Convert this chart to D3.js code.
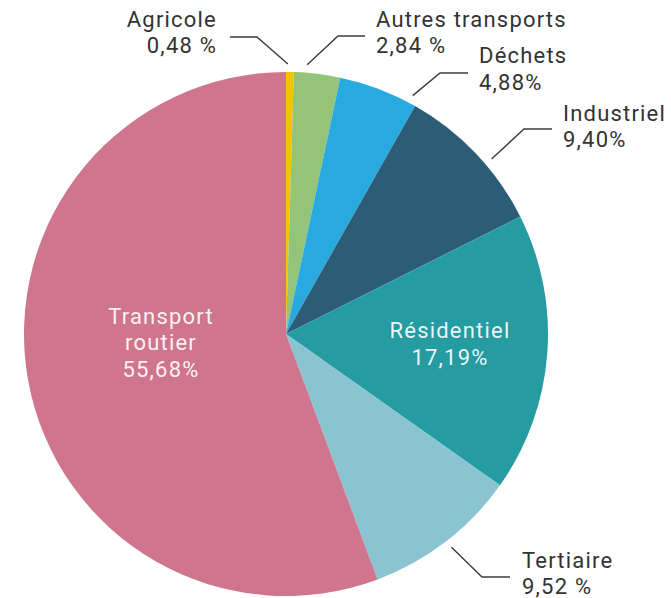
<!DOCTYPE html>
<html><head><meta charset="utf-8">
<script src="https://cdn.jsdelivr.net/npm/d3@7"></script>
<style>
html,body{margin:0;padding:0;background:#fff;}
svg{display:block;}
text{font-family:Roboto,"Open Sans",sans-serif;}
</style></head>
<body>
<svg id="chart" width="671" height="598"></svg>
<script>
// ---- data ----
const categories = ["Agricole","Autres transports","Déchets","Industriel","Résidentiel","Tertiaire","Transport routier"];
const values = [0.48, 2.84, 4.88, 9.40, 17.19, 9.52, 55.68];
const valueLabels = ["0,48 %","2,84 %","4,88%","9,40%","17,19%","9,52 %","55,68%"];
const colors = ["#f3c300","#94c47a","#28a9e0","#2d5c77","#259ba2","#89c4d0","#cf768e"];

// ---- layout (label placement) ----
const cx = 286, cy = 334, R = 262;
const outside = {
  "Agricole":          {anchor:"end",   x:217, y:[27,53],  leadAngle:0.4,  elbow:[257,37],  end:[230,37]},
  "Autres transports": {anchor:"start", x:376, y:[27,53],  leadAngle:4.5,  elbow:[338,36],  end:[365,36]},
  "Déchets":           {anchor:"start", x:479, y:[63,90],  leadAngle:28,   elbow:[440,73],  end:[468,73]},
  "Industriel":        {anchor:"start", x:563, y:[121,147],leadAngle:49.6, elbow:[524,129], end:[552,129]},
  "Tertiaire":         {anchor:"start", x:522, y:[568,594],leadAngle:142.2,elbow:[482,577], end:[510,577]}
};
const inside = {
  "Transport routier": {x:161, lines:["Transport","routier"], y:[324,350,377]},
  "Résidentiel":       {x:450, lines:["Résidentiel"], y:[338,365]}
};

const data = categories.map((c,i)=>({name:c, value:values[i], label:valueLabels[i], color:colors[i]}));
const svg = d3.select("#chart");
const g = svg.append("g").attr("transform",`translate(${cx},${cy})`);

const pie = d3.pie().sort(null).value(d=>d.value).startAngle(0).endAngle(2*Math.PI);
const arc = d3.arc().innerRadius(0).outerRadius(R);
const arcs = pie(data);

g.selectAll("path.slice").data(arcs).join("path")
  .attr("class","slice")
  .attr("d",arc)
  .attr("fill",d=>d.data.color);

// outside labels + leaders
arcs.forEach(a=>{
  const L = outside[a.data.name];
  if(!L) return;
  const ang = L.leadAngle*Math.PI/180;
  const r0 = R+8;
  const p0 = [cx + r0*Math.sin(ang), cy - r0*Math.cos(ang)];
  svg.append("polyline")
    .attr("points",[p0, L.elbow, L.end].map(p=>p.join(",")).join(" "))
    .attr("fill","none").attr("stroke","#3c3c3c").attr("stroke-width",1.4);
  const t = svg.append("text").attr("text-anchor",L.anchor)
    .attr("fill","#333").attr("font-size",22).attr("letter-spacing","1.2px");
  [a.data.name, a.data.label].forEach((s,i)=>{
    t.append("tspan").attr("x",L.x).attr("y",L.y[i]).text(s);
  });
});

// inside labels
arcs.forEach(a=>{
  const L = inside[a.data.name];
  if(!L) return;
  const t = svg.append("text").attr("text-anchor","middle")
    .attr("fill","#fff").attr("fill-opacity",0.92).attr("font-size",22).attr("letter-spacing","1.2px");
  L.lines.concat([a.data.label]).forEach((s,i)=>{
    t.append("tspan").attr("x",L.x).attr("y",L.y[i]).text(s);
  });
});
</script>
</body></html>
